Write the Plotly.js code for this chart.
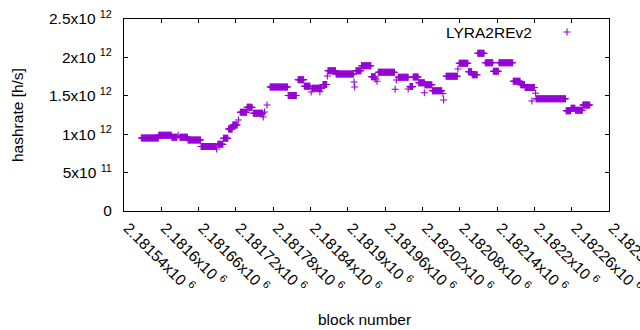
<!DOCTYPE html>
<html><head><meta charset="utf-8">
<script src="https://cdn.plot.ly/plotly-3.0.1.min.js"></script>
<style>html,body{margin:0;padding:0;background:#fff;}#chart{width:640px;height:330px;}</style>
</head><body><div id="chart"></div>
<script>
// Runs of consecutive blocks sharing one hashrate value (h/s)
const runStart = [2181568,2181596,2181617,2181630,2181643,2181664,2181691,2181700,2181708,2181715,2181727,2181738,2181748,2181775,2181804,2181820,2181830,2181843,2181860,2181868,2181881,2181913,2181922,2181938,2181949,2181981,2182000,2182005,2182014,2182024,2182036,2182058,2182079,2182094,2182100,2182109,2182121,2182134,2182143,2182166,2182178,2182185,2182203,2182251,2182259,2182266,2182278];
const runEnd   = [2181595,2181616,2181625,2181642,2181663,2181688,2181699,2181707,2181714,2181722,2181737,2181746,2181763,2181803,2181817,2181829,2181839,2181858,2181866,2181880,2181909,2181921,2181937,2181944,2181975,2181997,2182004,2182013,2182023,2182035,2182051,2182076,2182093,2182099,2182108,2182119,2182133,2182142,2182165,2182177,2182184,2182200,2182250,2182258,2182265,2182277,2182289];
const runValue = [0.950e12,0.986e12,0.960e12,0.960e12,0.924e12,0.840e12,0.868e12,0.947e12,1.068e12,1.120e12,1.285e12,1.350e12,1.272e12,1.615e12,1.504e12,1.710e12,1.624e12,1.598e12,1.647e12,1.827e12,1.784e12,1.827e12,1.892e12,1.749e12,1.806e12,1.741e12,1.620e12,1.745e12,1.670e12,1.645e12,1.566e12,1.755e12,1.923e12,1.814e12,1.775e12,2.053e12,1.931e12,1.819e12,1.931e12,1.689e12,1.645e12,1.608e12,1.462e12,1.306e12,1.337e12,1.311e12,1.380e12];
// Single blocks off the runs
const ptBlock = [2181627,2181689,2181724,2181764,2181766,2181770,2181841,2181855,2181867,2181910,2181911,2181945,2181947,2181976,2181978,2181997,2182023,2182053,2182054,2182077,2182196,2182202];
const ptValue = [0.986e12,0.807e12,1.185e12,1.224e12,1.289e12,1.380e12,1.550e12,1.553e12,1.758e12,1.680e12,1.615e12,1.720e12,1.690e12,1.585e12,1.706e12,1.589e12,1.540e12,1.530e12,1.445e12,1.849e12,1.432e12,1.533e12];

const xTickVals = [2181540,2181600,2181660,2181720,2181780,2181840,2181900,2181960,2182020,2182080,2182140,2182200,2182260,2182320];
const xTickText = ['2.18154x10 <sup>6</sup>','2.1816x10 <sup>6</sup>','2.18166x10 <sup>6</sup>','2.18172x10 <sup>6</sup>','2.18178x10 <sup>6</sup>','2.18184x10 <sup>6</sup>','2.1819x10 <sup>6</sup>','2.18196x10 <sup>6</sup>','2.18202x10 <sup>6</sup>','2.18208x10 <sup>6</sup>','2.18214x10 <sup>6</sup>','2.1822x10 <sup>6</sup>','2.18226x10 <sup>6</sup>','2.18232x10 <sup>6</sup>'];
const yTickVals = [0,0.5e12,1e12,1.5e12,2e12,2.5e12];
const yTickText = ['0','5x10 <sup>11</sup>','1x10 <sup>12</sup>','1.5x10 <sup>12</sup>','2x10 <sup>12</sup>','2.5x10 <sup>12</sup>'];
const seriesName = 'LYRA2REv2';

const xs = [], ys = [];
for (let i = 0; i < runStart.length; i++) {
  for (let b = runStart[i]; b <= runEnd[i]; b++) { xs.push(b); ys.push(runValue[i]); }
}
for (let i = 0; i < ptBlock.length; i++) { xs.push(ptBlock[i]); ys.push(ptValue[i]); }

const color = '#9400d3';
const font = {family: 'Liberation Sans, Arial, sans-serif', size: 15.5, color: '#000'};
const mk = {symbol: 'cross-thin', size: 5, color: color, line: {color: color, width: 1.1}};

const traces = [
  {x: xs, y: ys, type: 'scatter', mode: 'markers', marker: mk, name: seriesName, showlegend: false, hoverinfo: 'skip'},
  {x: [0.9134], y: [0.932], xaxis: 'x2', yaxis: 'y2', type: 'scatter', mode: 'markers', marker: mk, showlegend: false, hoverinfo: 'skip'}
];

const W = 485, H = 192;
const layout = {
  width: 640, height: 330,
  margin: {l: 124, r: 31, t: 19, b: 119},
  paper_bgcolor: '#fff', plot_bgcolor: '#fff',
  font: font,
  showlegend: false,
  xaxis: {range: [2181540, 2182320], tickvals: xTickVals, ticktext: xTickText, tickangle: 45,
    showline: true, mirror: 'allticks', linecolor: '#000', linewidth: 1, ticks: 'inside', ticklen: 4, tickcolor: '#000',
    showgrid: false, zeroline: false, tickfont: font, ticklabelstandoff: 1, ticklabelshift: 4, ticklabeloverflow: 'allow'},
  yaxis: {range: [0, 2.5e12], tickvals: yTickVals, ticktext: yTickText,
    showline: true, mirror: 'allticks', linecolor: '#000', linewidth: 1, ticks: 'inside', ticklen: 4, tickcolor: '#000',
    showgrid: false, zeroline: false, tickfont: font, ticklabelstandoff: 8},
  xaxis2: {overlaying: 'x', range: [0, 1], visible: false, fixedrange: true},
  yaxis2: {overlaying: 'y', range: [0, 1], visible: false, fixedrange: true},
  annotations: [
    {text: 'hashrate [h/s]', xref: 'paper', yref: 'paper', x: (17 - 124) / W, y: 0.5, xanchor: 'center', yanchor: 'middle', textangle: -90, showarrow: false, font: font},
    {text: 'block number', xref: 'paper', yref: 'paper', x: (364 - 124) / W, y: (211 - 319) / H, xanchor: 'center', yanchor: 'middle', showarrow: false, font: font},
    {text: seriesName, xref: 'paper', yref: 'paper', x: (534 - 124) / W, y: (211 - 32) / H, xanchor: 'right', yanchor: 'middle', showarrow: false, font: font}
  ]
};
Plotly.newPlot('chart', traces, layout, {staticPlot: true, displayModeBar: false});
</script>
</body></html>
